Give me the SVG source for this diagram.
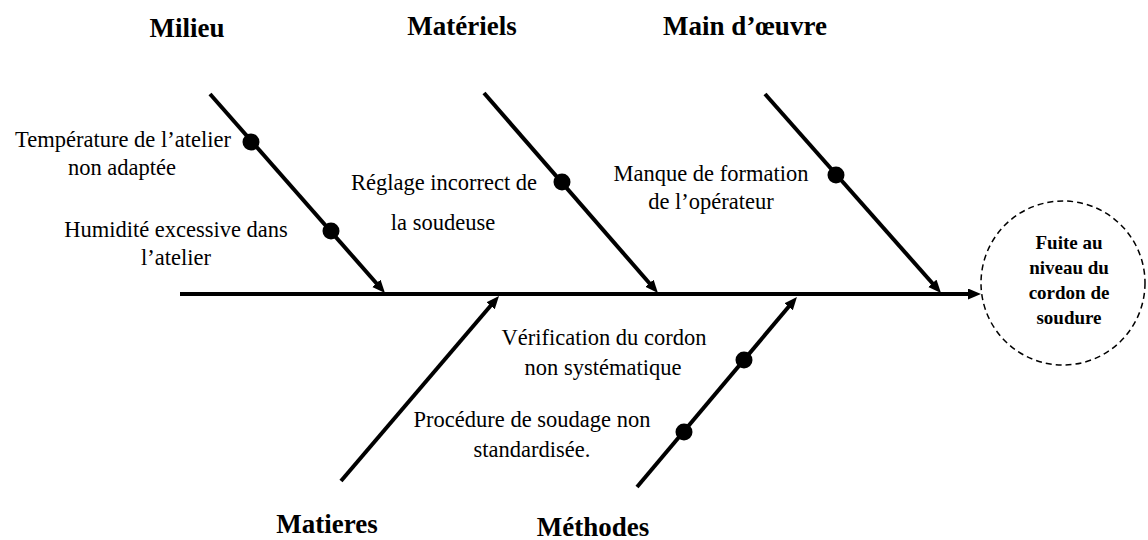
<svg xmlns="http://www.w3.org/2000/svg" width="1148" height="540" viewBox="0 0 1148 540">
<style>
.ln{stroke:#000;stroke-width:4;fill:none}
.dot{fill:#000}
.lbl{font-family:"Liberation Serif","Times New Roman",serif;font-size:22.5px;fill:#000;text-anchor:middle}
.ttl{font-family:"Liberation Serif","Times New Roman",serif;font-size:27px;font-weight:bold;fill:#000;text-anchor:middle}
.eff{font-family:"Liberation Serif","Times New Roman",serif;font-size:19px;font-weight:bold;fill:#000;text-anchor:middle}
</style>
<defs>
<marker id="ah" markerUnits="userSpaceOnUse" markerWidth="14" markerHeight="12" refX="5" refY="5.5" orient="auto">
<path d="M0,0 L13,5.5 L0,11 z" fill="#000"/>
</marker>
</defs>
<rect width="1148" height="540" fill="#fff"/>
<g id="connectors">
<line class="ln" x1="180" y1="294" x2="973" y2="294" marker-end="url(#ah)"/>
<line class="ln" x1="210" y1="94" x2="379.7" y2="287" marker-end="url(#ah)"/>
<line class="ln" x1="484" y1="93" x2="652.7" y2="287" marker-end="url(#ah)"/>
<line class="ln" x1="765" y1="94" x2="935.7" y2="287" marker-end="url(#ah)"/>
<line class="ln" x1="341" y1="481" x2="493.8" y2="302" marker-end="url(#ah)"/>
<line class="ln" x1="637" y1="487" x2="791.8" y2="303" marker-end="url(#ah)"/>
</g>
<g id="milieu">
<text class="ttl" x="187" y="37">Milieu</text>
<circle class="dot" cx="251" cy="142" r="8.5"/>
<circle class="dot" cx="331" cy="231" r="8.5"/>
<text class="lbl" x="123" y="147">Température de l’atelier</text>
<text class="lbl" x="122" y="175">non adaptée</text>
<text class="lbl" x="176" y="237">Humidité excessive dans</text>
<text class="lbl" x="176" y="265">l’atelier</text>
</g>
<g id="materiels">
<text class="ttl" x="462" y="35">Matériels</text>
<circle class="dot" cx="562" cy="182" r="8.5"/>
<text class="lbl" x="444" y="190">Réglage incorrect de</text>
<text class="lbl" x="443" y="230">la soudeuse</text>
</g>
<g id="main-oeuvre">
<text class="ttl" x="745" y="35">Main d’œuvre</text>
<circle class="dot" cx="836" cy="175" r="8.5"/>
<text class="lbl" x="711" y="181">Manque de formation</text>
<text class="lbl" x="711" y="209">de l’opérateur</text>
</g>
<g id="matieres">
<text class="ttl" x="327" y="533">Matieres</text>
</g>
<g id="methodes">
<text class="ttl" x="593" y="536">Méthodes</text>
<circle class="dot" cx="744" cy="360" r="8.5"/>
<circle class="dot" cx="684" cy="432" r="8.5"/>
<text class="lbl" x="604" y="345">Vérification du cordon</text>
<text class="lbl" x="603" y="375">non systématique</text>
<text class="lbl" x="532" y="427">Procédure de soudage non</text>
<text class="lbl" x="532" y="457">standardisée.</text>
</g>
<g id="effet">
<circle cx="1063" cy="283" r="82" fill="none" stroke="#000" stroke-width="1.5" stroke-dasharray="6,4"/>
<text class="eff" x="1069" y="249">Fuite au</text>
<text class="eff" x="1069" y="274">niveau du</text>
<text class="eff" x="1069" y="299">cordon de</text>
<text class="eff" x="1069" y="324">soudure</text>
</g>
</svg>
